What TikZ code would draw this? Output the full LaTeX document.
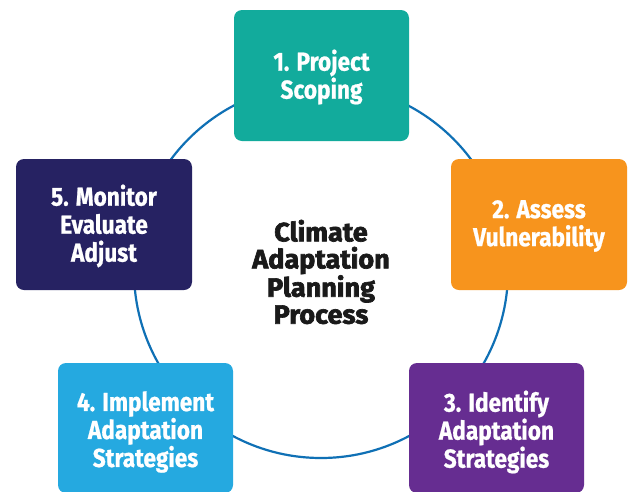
\documentclass[tikz,border=0pt]{standalone}
\usepackage{fontspec}
\setmainfont{Fira Sans}
\newfontfamily\boxfont[FakeStretch=0.87,FakeBold=0.8]{Fira Sans Bold}
\newfontfamily\heavyfont[FakeBold=2.4,FakeStretch=1.02]{Fira Sans Bold}
\definecolor{cteal}{HTML}{12AB9C}
\definecolor{corange}{HTML}{F7941D}
\definecolor{cpurple}{HTML}{662D91}
\definecolor{cblue}{HTML}{25A9E0}
\definecolor{cnavy}{HTML}{262262}
\definecolor{cring}{HTML}{0F70B5}
\definecolor{ctext}{HTML}{1A1A1A}
\tikzset{
  stepbox/.style={rounded corners=8pt, draw=none, inner sep=0pt, outer sep=0pt},
  steptext/.style={text=white, align=center, font=\boxfont\fontsize{26}{28}\selectfont},
  ring/.style={draw=cring, line width=2.2pt}
}
\begin{document}
\begin{tikzpicture}[x=1pt,y=-1pt]
\useasboundingbox (0,0) rectangle (633,491);
\clip (0,0) rectangle (633,491);
\fill[white] (0,0) rectangle (633,491);
\node[circle, minimum size=374pt, ring, inner sep=0pt] (ring) at (321,271) {};
\path[fill=cteal, stepbox] (234,10) rectangle (409,141);
\path[fill=corange, stepbox] (451,159) rectangle (627,290);
\path[fill=cpurple, stepbox] (409,363) rectangle (584,493);
\path[fill=cblue, stepbox] (58,363) rectangle (233,493);
\path[fill=cnavy, stepbox] (16,159) rectangle (192,290);
\node[steptext] (s1) at (321.5,77) {1. Project\\Scoping};
\node[steptext] (s2) at (539,226) {2. Assess\\Vulnerability};
\node[steptext] (s3) at (496.5,432) {3. Identify\\Adaptation\\Strategies};
\node[steptext] (s4) at (145.5,432) {4. Implement\\Adaptation\\Strategies};
\node[steptext] (s5) at (104,226) {5. Monitor\\Evaluate\\Adjust};
\node[text=ctext, align=center, font=\heavyfont\fontsize{26.5}{27}\selectfont] (title) at (321,272) {Climate\\Adaptation\\Planning\\Process};
\end{tikzpicture}
\end{document}
